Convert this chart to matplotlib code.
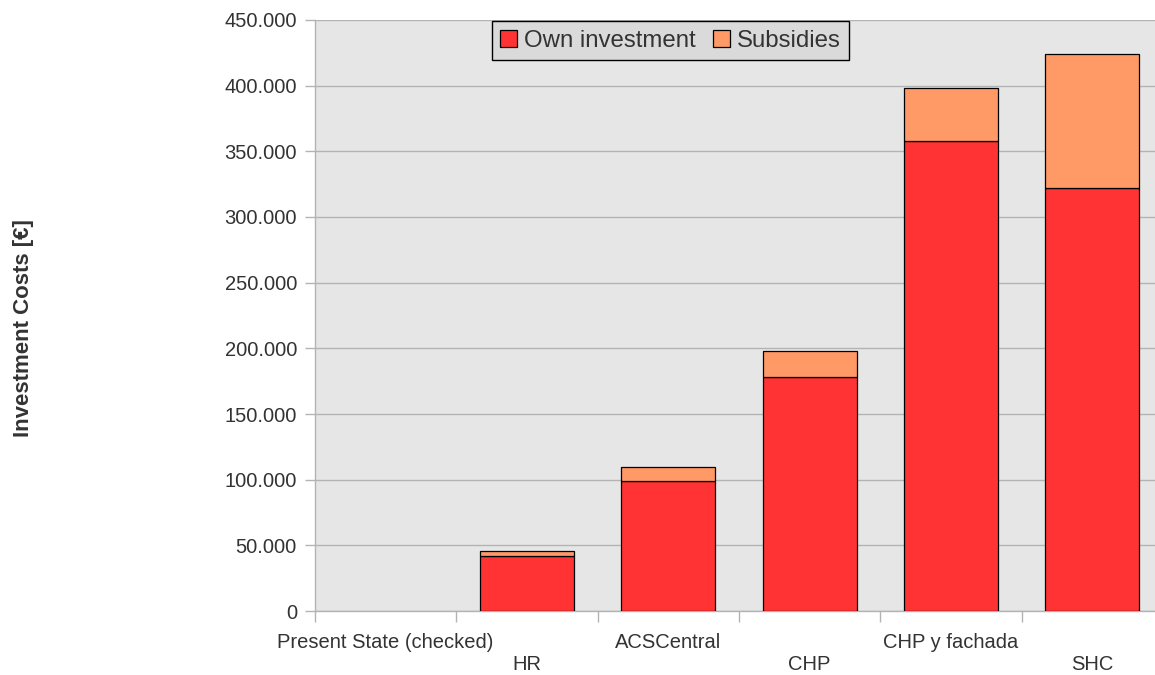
import numpy as np
import matplotlib
matplotlib.use("Agg")
import matplotlib.pyplot as plt
from matplotlib.ticker import FuncFormatter

plt.rcParams["font.family"] = ["Liberation Sans", "DejaVu Sans"]

# investment per scenario, in euros
scenarios = ["Present State (checked)", "HR", "ACSCentral", "CHP", "CHP y fachada", "SHC"]
own_investment = [0, 42000, 99000, 178000, 358000, 322000]
subsidies = [0, 4000, 11000, 20000, 40000, 102000]
y_ticks = [0, 50000, 100000, 150000, 200000, 250000, 300000, 350000, 400000, 450000]

RED = "#ff3333"
ORANGE = "#ff9966"
GRID = "#b3b3b3"
TEXT = "#333333"

fig = plt.figure(figsize=(11.55, 6.75), dpi=100)
ax = fig.add_axes([0.2727, 0.0948, 0.7342, 0.8756])
ax.set_facecolor("#e6e6e6")

x = np.arange(len(scenarios))
width = 0.665
# empty scenarios get no outline so nothing shows on the baseline
own_lw = [0.9 if v > 0 else 0 for v in own_investment]
sub_lw = [0.9 if v > 0 else 0 for v in subsidies]
ax.bar(x, own_investment, width, color=RED, edgecolor="black", linewidth=own_lw,
       label="Own investment", zorder=3)
ax.bar(x, subsidies, width, bottom=own_investment, color=ORANGE, edgecolor="black",
       linewidth=sub_lw, label="Subsidies", zorder=3)

ax.set_xlim(-0.5, len(scenarios) - 0.5)
ax.set_ylim(0, 450000)
ax.set_yticks(y_ticks)
ax.yaxis.set_major_formatter(FuncFormatter(lambda v, _: f"{v:,.0f}".replace(",", ".")))
ax.yaxis.grid(True, color=GRID, linewidth=1, zorder=0)
ax.set_axisbelow(True)

# staggered category labels, ticks on category boundaries
labels = [s if i % 2 == 0 else "\n" + s for i, s in enumerate(scenarios)]
ax.set_xticks(x)
ax.set_xticklabels(labels, linespacing=1.2)
ax.set_xticks(np.arange(len(scenarios) + 1) - 0.5, minor=True)
ax.tick_params(axis="x", which="major", length=0, pad=16, labelsize=14.5, labelcolor=TEXT)
ax.tick_params(axis="x", which="minor", length=8, color=GRID, width=1)
ax.tick_params(axis="y", length=7, color=GRID, width=1, labelsize=14.5, labelcolor=TEXT, pad=6)

for side in ("top", "right"):
    ax.spines[side].set_visible(False)
for side in ("left", "bottom"):
    ax.spines[side].set_color(GRID)
    ax.spines[side].set_linewidth(1)

fig.text(0.02, 0.514, "Investment Costs [€]", rotation=90, fontsize=16, fontweight="bold",
         color=TEXT, ha="center", va="center")

leg = ax.legend(loc="upper left", bbox_to_anchor=(0.2087, 0.998), ncol=2, fontsize=17.3,
                frameon=True, fancybox=False, borderaxespad=0, handlelength=0.7,
                handleheight=0.7, handletextpad=0.3, columnspacing=0.7, borderpad=0.35)
leg.get_frame().set_facecolor("#dadada")
leg.get_frame().set_edgecolor("black")
leg.get_frame().set_linewidth(1)
leg.get_frame().set_alpha(1)
for h in leg.legend_handles:
    h.set_edgecolor("black")
    h.set_linewidth(0.9)
for t in leg.get_texts():
    t.set_color(TEXT)

fig.savefig("out.png", dpi=100)
